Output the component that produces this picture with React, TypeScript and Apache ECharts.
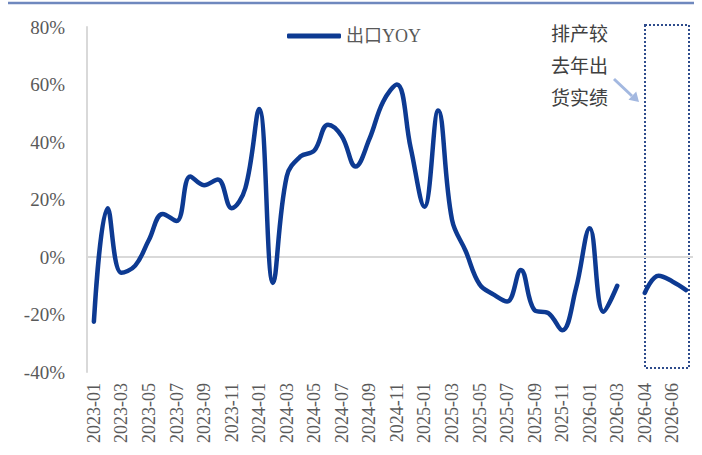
import React, { useEffect, useRef } from "react";
import * as echarts from "echarts";

const categories: string[] = [
  "2023-01", "2023-02", "2023-03", "2023-04", "2023-05", "2023-06", "2023-07", "2023-08", "2023-09", "2023-10", "2023-11", "2023-12",
  "2024-01", "2024-02", "2024-03", "2024-04", "2024-05", "2024-06", "2024-07", "2024-08", "2024-09", "2024-10", "2024-11", "2024-12",
  "2025-01", "2025-02", "2025-03", "2025-04", "2025-05", "2025-06", "2025-07", "2025-08", "2025-09", "2025-10", "2025-11", "2025-12",
  "2026-01", "2026-02", "2026-03", " ", "2026-04", "2026-05", "2026-06", "2026-07",
];

const exportYoy: (number | null)[] = [
  -22.5, 17, -5.5, -3, 6, 15, 12.5, 28, 25, 27, 17, 24,
  51.5, -9, 28, 35, 37, 46, 42, 31.5, 41, 54, 60, 38,
  17.5, 51, 13, 2, -9.5, -13, -15.5, -4.5, -18.5, -19.5, -25.5, -11,
  10, -19, -10, null, -12.5, -6.5, -8.5, -11.5,
];

const seriesName = "出口YOY";
const noteLines = ["排产较", "去年出", "货实绩"];
const yMin = -40;
const yMax = 80;
const yStep = 20;

const SERIF = "'Liberation Serif', 'Noto Sans CJK SC', serif";
const LINE_COLOR = "#0D3A92";

export default function App() {
  const ref = useRef<HTMLDivElement>(null);
  useEffect(() => {
    if (!ref.current) return;
    const chart = echarts.init(ref.current, null, { renderer: "svg" });
    chart.setOption({
      animation: false,
      backgroundColor: "#ffffff",
      grid: { left: 87, right: 9, top: 27, bottom: 83, containLabel: false },
      legend: {
        show: true,
        left: 287,
        top: 27,
        padding: 0,
        icon: "roundRect",
        itemWidth: 54,
        itemHeight: 5,
        itemGap: 6,
        textStyle: { color: "#595959", fontSize: 18, fontFamily: SERIF },
        data: [{ name: seriesName, itemStyle: { color: LINE_COLOR } }],
      },
      xAxis: {
        type: "category",
        data: categories,
        boundaryGap: true,
        axisLine: { show: false },
        axisTick: { show: false },
        splitLine: { show: false },
        axisLabel: {
          interval: 1,
          rotate: 90,
          margin: 11,
          color: "#595959",
          fontSize: 18,
          fontFamily: SERIF,
        },
      },
      yAxis: {
        type: "value",
        min: yMin,
        max: yMax,
        interval: yStep,
        axisLine: { show: true, lineStyle: { color: "#D9D9D9", width: 2 } },
        axisTick: { show: false },
        splitLine: { show: false },
        axisLabel: {
          formatter: "{value}%",
          margin: 22,
          color: "#595959",
          fontSize: 19,
          fontFamily: SERIF,
        },
      },
      series: [
        {
          name: seriesName,
          type: "line",
          data: exportYoy,
          smooth: 0.4,
          connectNulls: false,
          showSymbol: false,
          symbol: "none",
          lineStyle: { color: LINE_COLOR, width: 4.5, cap: "round", join: "round" },
          itemStyle: { color: LINE_COLOR },
          z: 5,
          markLine: {
            silent: true,
            symbol: ["none", "none"],
            label: { show: false },
            lineStyle: { color: "#D9D9D9", width: 2, type: "solid" },
            data: [{ yAxis: 0 }],
            z: 1,
          },
        },
      ],
      graphic: [
        {
          type: "line",
          shape: { x1: 8, y1: 3, x2: 694, y2: 3 },
          style: { stroke: "#6F88BE", lineWidth: 2.5 },
          silent: true,
        },
        {
          type: "rect",
          shape: { x: 645, y: 25, width: 44, height: 343 },
          style: { fill: "none", stroke: "#2E4C8C", lineWidth: 2, lineDash: [2, 2] },
          silent: true,
        },
        {
          type: "text",
          left: 551,
          top: 16,
          style: {
            text: noteLines.join("\n"),
            fill: "#404040",
            fontSize: 19,
            lineHeight: 32,
            fontFamily: "'Noto Sans CJK SC', sans-serif",
          },
          silent: true,
        },
        {
          type: "line",
          shape: { x1: 614, y1: 79, x2: 632, y2: 96 },
          style: { stroke: "#A3B8E0", lineWidth: 3 },
          silent: true,
        },
        {
          type: "polygon",
          shape: { points: [[639, 102], [628.5, 99.8], [636.2, 91.6]] },
          style: { fill: "#A3B8E0" },
          silent: true,
        },
      ],
    });
    return () => chart.dispose();
  }, []);
  return (
    <div
      ref={ref}
      style={{ position: "fixed", left: 0, top: 0, width: 702, height: 455, background: "#fff" }}
    />
  );
}
